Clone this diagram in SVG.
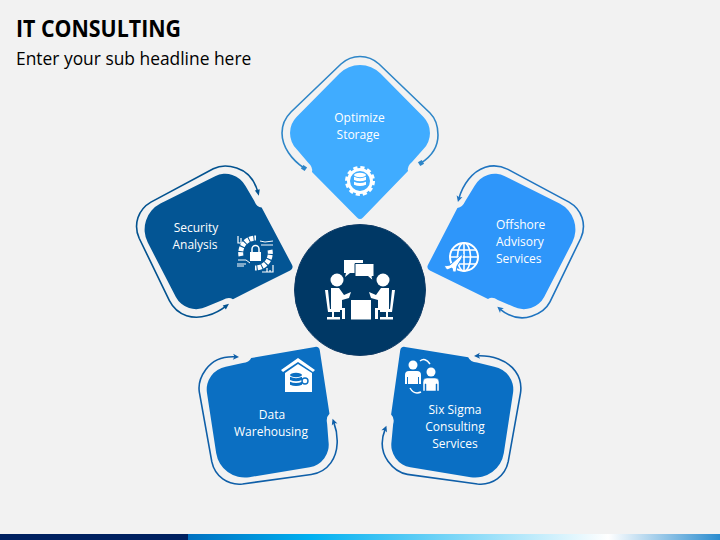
<svg xmlns="http://www.w3.org/2000/svg" width="720" height="540" viewBox="0 0 720 540">
<style>
.t{font-family:"Open Sans","Liberation Sans",sans-serif;font-size:12px;fill:#fff;text-anchor:middle;font-weight:500}
.l{text-anchor:start}
.w{fill:#fff}
.arc{fill:none;stroke-width:1.6}
.is{fill:none;stroke:#fff}
.h{font-family:"Open Sans","Liberation Sans",sans-serif;fill:#000}
</style>
<defs>
<linearGradient id="bar" x1="188" x2="720" y1="0" y2="0" gradientUnits="userSpaceOnUse">
<stop offset="0" stop-color="#0070c0"/><stop offset=".23" stop-color="#00b0f0"/><stop offset=".79" stop-color="#fff"/><stop offset="1" stop-color="#2a8ccf"/>
</linearGradient>
<path id="card" d="M339.5,73.5A29,29 0 0 1 380.5,73.5L423.5,117A23,23 0 0 1 423.5,149L412,162Q407,166 408,171L363,217.5Q360,220.5 357,217.5L312,172Q313,167 308,162.5L296.5,149A23,23 0 0 1 296.5,117Z"/>
<path id="loop" class="arc" d="M304,168C292,160 282,147 282,133C282,125 285,118 291,112L341,64C352,54 368,54 379,64L430,113C435,118 438,126 438,135C438,147 432,156 421,163"/>
<marker id="mS" markerUnits="userSpaceOnUse" markerWidth="6" markerHeight="6" refX="3" refY="3" orient="auto"><rect width="4.5" height="4.5" x=".75" y=".75" fill="#2e86c8"/></marker>
<marker id="mO" markerUnits="userSpaceOnUse" markerWidth="8" markerHeight="8" refX="4" refY="4" orient="auto-start-reverse"><path d="M1,1.5L7,4L1,6.5Z" fill="#02528f"/></marker>
<marker id="mA" markerUnits="userSpaceOnUse" markerWidth="8" markerHeight="8" refX="4" refY="4" orient="auto-start-reverse"><path d="M1,1L7,4L1,7L2.5,4Z" fill="#1f74c0"/></marker>
<marker id="mD" markerUnits="userSpaceOnUse" markerWidth="8" markerHeight="8" refX="4" refY="4" orient="auto-start-reverse"><path d="M1,1L7,4L1,7L2.5,4Z" fill="#0f5fa8"/></marker>
<g id="db"><ellipse cx="0" cy="-6" rx="6" ry="2.2"/><path d="M-6,-4.2Q0,-1.5 6,-4.2V-1Q0,1.6 -6,-1ZM-6,.8Q0,3.4 6,.8V3.8Q0,6.4 -6,3.8Z"/></g>
</defs>
<rect width="720" height="540" fill="#f2f2f2"/>
<rect y="534" width="188" height="6" fill="#002060"/>
<rect x="188" y="534" width="532" height="6" fill="url(#bar)"/>
<text class="h" x="16" y="36.5" font-size="22.5" font-weight="700" textLength="165" lengthAdjust="spacingAndGlyphs">IT CONSULTING</text>
<text class="h" x="16" y="65" font-size="17.4">Enter your sub headline here</text>

<g id="connectors">
<use href="#loop" stroke="#2e86c8" marker-start="url(#mS)" marker-end="url(#mS)"/>
<use href="#loop" transform="rotate(-72 360 290)" stroke="#02528f" marker-start="url(#mO)" marker-end="url(#mO)"/>
<use href="#loop" transform="rotate(72 360 290)" stroke="#1f74c0" marker-start="url(#mA)" marker-end="url(#mA)"/>
<use href="#loop" transform="rotate(-144 360 290)" stroke="#0f5fa8" marker-start="url(#mD)" marker-end="url(#mD)"/>
<use href="#loop" transform="rotate(144 360 290)" stroke="#0f5fa8" marker-start="url(#mD)" marker-end="url(#mD)"/>
</g>

<g id="node-optimize-storage">
<use href="#card" fill="#40acff"/>
<text class="t" x="359.5" y="122">Optimize</text><text class="t" x="358" y="139">Storage</text>
<circle cx="360" cy="181" r="13" fill="none" stroke="#fff" stroke-width="4" stroke-dasharray="4 2.8"/>
<circle cx="360" cy="181" r="11.5" fill="none" stroke="#fff" stroke-width="3"/>
<use href="#db" transform="translate(360 181)" fill="#fff"/>
</g>

<g id="node-security-analysis">
<use href="#card" transform="rotate(-72 360 290)" fill="#035594"/>
<text class="t" x="196" y="232">Security</text><text class="t" x="195" y="249">Analysis</text>
<path class="is" stroke-width="5" stroke-dasharray="4 1" d="M241,256A15,15 0 0 1 256,238"/>
<path class="is" stroke-width="5" stroke-dasharray="4 1" d="M270,250A15,15 0 0 1 255,268"/>
<rect class="w" x="250" y="252" width="11" height="9"/>
<path class="is" stroke-width="1.5" d="M252,252V249A3.5,3.5 0 0 1 259,249V252"/>
<path class="is" stroke-width="1" d="M260,241L265,242L273,241M261,245H273M238,260H246L250,263M237,264H246M237,266H244"/>
<path class="is" stroke-width="1.2" d="M238,236V243H243M241,238V243M270,270V272H273M267,268V272M273,265V272H262"/>
</g>

<g id="node-offshore-advisory">
<use href="#card" transform="rotate(72 360 290)" fill="#2e96fa"/>
<text class="t l" x="496" y="229">Offshore</text><text class="t l" x="496" y="246">Advisory</text><text class="t l" x="496" y="263">Services</text>
<circle class="is" cx="464" cy="257" r="14" stroke-width="2"/>
<ellipse class="is" cx="464" cy="257" rx="6.5" ry="14" stroke-width="1.6"/>
<path class="is" stroke-width="1.6" d="M464,243V271M450,257H478M452,250H476M452,264H476"/>
<path d="M444,266L450,265L460,256L463,254L462,258L457,266L456,272L453,272L452,268L447,270Z" fill="#fff" stroke="#2e96fa" stroke-width="1"/>
</g>

<g id="node-data-warehousing">
<use href="#card" transform="rotate(-144 360 290)" fill="#0b6fc2"/>
<text class="t" x="272" y="419">Data</text><text class="t" x="271" y="436">Warehousing</text>
<path class="w" d="M298,358L315,370L313,372L298,362L283,372L281,370Z"/>
<path class="w" d="M298,364L312,373V392H285V373Z"/>
<use href="#db" transform="translate(296 381)" fill="#0b6fc2"/>
<circle cx="305" cy="381" r="3" fill="none" stroke="#0b6fc2" stroke-width="1.4"/>
</g>

<g id="node-six-sigma">
<use href="#card" transform="rotate(144 360 290)" fill="#0a6fc4"/>
<text class="t" x="455" y="414">Six Sigma</text><text class="t" x="455" y="431">Consulting</text><text class="t" x="455" y="448">Services</text>
<circle class="w" cx="413" cy="365" r="4.5"/>
<path class="w" d="M405,375Q405,371 409,371H417Q421,371 421,375V384H419V377H418V384H408V377H407V384H405Z"/>
<circle class="w" cx="431" cy="372" r="4.5"/>
<path class="w" d="M423,382Q423,378 427,378H435Q439,378 439,382V391H437V384H436V391H426V384H425V391H423Z" stroke="#0a6fc4" stroke-width=".5"/>
<path class="is" stroke-width="1.5" d="M420,361Q425,357 430,364M410,388Q414,395 421,392"/>
</g>

<g id="node-center">
<circle cx="360" cy="290" r="65.5" fill="#003865" stroke="#0f3b66" stroke-width="1"/>
<path class="w" d="M344,260H363V273H350L345,277L346,273H344Z"/>
<path class="w" d="M355,263.5H374V276.5H372L373,281L368,276.5H355Z" stroke="#003865" stroke-width="1"/>
<circle class="w" cx="337" cy="280" r="6.5"/>
<circle class="w" cx="383" cy="280" r="6.5"/>
<path class="w" d="M331,288H339L344,295L351,292L349,298L342,300H342V308H345V319H342V310H331Z"/>
<path class="w" d="M389,288H381L376,295L369,292L371,298L378,300H378V308H375V319H378V310H389Z"/>
<path class="w" d="M351,300H371V319.5H351Z"/>
<path class="w" d="M325,290L328,290L330,309H340V312H334V317H340V319.5H327V317H332V312H328Z"/>
<path class="w" d="M395,290L392,290L390,309H380V312H386V317H380V319.5H393V317H388V312H392Z"/>
</g>
</svg>
